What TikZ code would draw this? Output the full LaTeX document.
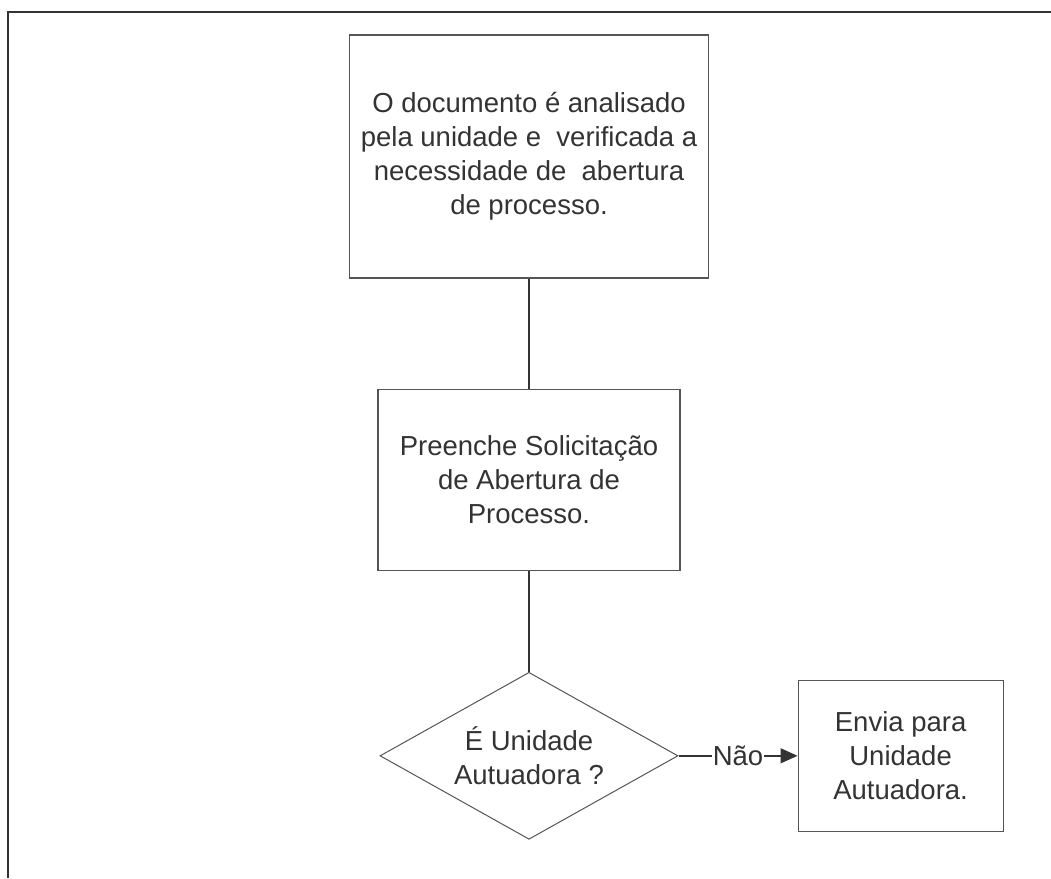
\documentclass[tikz,border=0pt]{standalone}
\usepackage{fontspec}
\setmainfont{Liberation Sans}
\usepackage{tikz}
\usetikzlibrary{shapes.geometric,positioning,arrows.meta}
\definecolor{m_line}{HTML}{333333}
\definecolor{m_text}{HTML}{333333}
\definecolor{m_border}{HTML}{555555}

\begin{document}
\begin{tikzpicture}[
    x=1pt, y=-1pt,
    node distance=110pt,
    every node/.style={font=\fontsize{27.5}{34}\selectfont, text=m_text, align=center},
    process/.style={draw=m_border, line width=1.2pt, inner sep=0pt},
    decision/.style={diamond, aspect=1.78, draw=m_border, line width=1pt, inner sep=0pt,
        minimum width=298pt, minimum height=167pt},
    link/.style={draw=m_line, line width=2pt}]

    \useasboundingbox (0,0) rectangle (1051,878);
    % swimlane frame
    \draw[m_line, line width=2pt] (8,878) -- (8,12) -- (1051,12);

    \node[process, minimum width=359pt, minimum height=243pt] (analise) at (529,156.5)
        {O documento é analisado\\pela unidade e\ \ verificada a\\necessidade de\ \ abertura\\de processo.};
    \node[process, minimum width=302pt, minimum height=181pt] (preenche) [below = 110pt of analise]
        {Preenche Solicitação\\de Abertura de\\Processo.};
    \node[decision] (decisao) [below = 101pt of preenche] {É Unidade\\Autuadora ?};
    \node[process, minimum width=205pt, minimum height=151pt] (envia) [right = 119pt of decisao]
        {Envia para\\Unidade\\Autuadora.};

    \path[link] (analise) -- (preenche);
    \path[link] (preenche) -- (decisao);
    \draw[m_line, line width=1.5pt, -{Triangle[length=17pt,width=15pt]}] (decisao) -- node[fill=white, inner sep=1pt] {Não} (envia);
\end{tikzpicture}
\end{document}
